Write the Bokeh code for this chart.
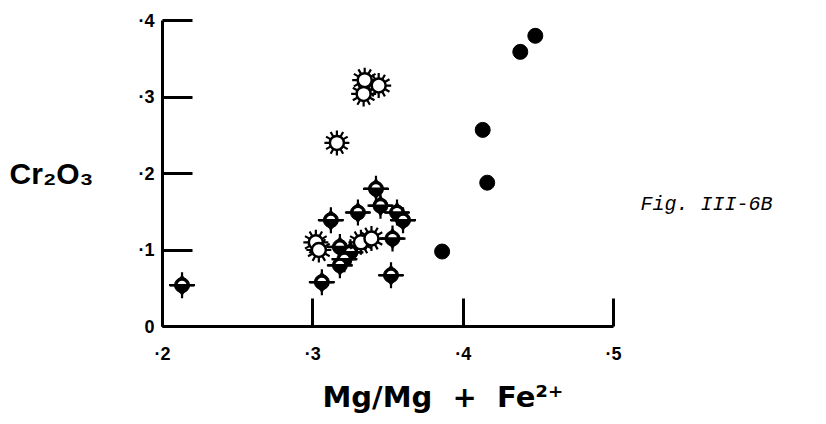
import numpy as np
from bokeh.plotting import figure
from bokeh.models import FixedTicker, Title, Label
from bokeh.embed import file_html
from bokeh.resources import INLINE

# ---- data ----
filled_x = [0.386, 0.413, 0.416, 0.438, 0.448]
filled_y = [0.098, 0.257, 0.188, 0.359, 0.380]

half_x = [0.213, 0.306, 0.312, 0.330, 0.342, 0.345, 0.356, 0.360, 0.353, 0.352,
          0.318, 0.325, 0.321, 0.318]
half_y = [0.054, 0.058, 0.139, 0.149, 0.180, 0.158, 0.149, 0.139, 0.115, 0.067,
          0.104, 0.097, 0.088, 0.080]

sun_x = [0.302, 0.304, 0.332, 0.339, 0.316, 0.3345, 0.3438, 0.3338]
sun_y = [0.110, 0.100, 0.110, 0.115, 0.240, 0.322, 0.315, 0.304]

x_ticks = [0.2, 0.3, 0.4, 0.5]
x_tick_labels = ["·2", "·3", "·4", "·5"]
y_ticks = [0.0, 0.1, 0.2, 0.3, 0.4]
y_tick_labels = ["0", "·1", "·2", "·3", "·4"]

y_title = "Cr₂O₃"
x_title = "Mg/Mg\u00a0\u00a0+\u00a0\u00a0Fe²⁺"
fig_note = "Fig. III-6B"

# ---- layout (px) ----
W = 824
FL, FT = 162, 20                 # frame left / top
AX_W, AX_H = 451, 306            # drawn axis lengths (0.2..0.5, 0..0.4)
px_per_x = AX_W / 0.3
FW = W - FL                      # frame runs to the right edge (room for the note)
x_end = 0.2 + FW / px_per_x

p = figure(frame_width=FW, frame_height=AX_H, x_range=(0.2, x_end), y_range=(0.0, 0.4),
           output_backend="svg", toolbar_location=None,
           min_border_left=FL, min_border_right=0,
           min_border_top=FT, min_border_bottom=98)
p.outline_line_color = None
p.grid.visible = False
p.background_fill_color = "white"
p.border_fill_color = "white"

for ax, ticks, labels, tin, stand, bnds in (
        (p.xaxis[0], x_ticks, x_tick_labels, 28, 17, (0.2, 0.5)),
        (p.yaxis[0], y_ticks, y_tick_labels, 30, 8, (0.0, 0.4))):
    ax.ticker = FixedTicker(ticks=ticks)
    ax.bounds = bnds
    ax.major_label_overrides = {t: l for t, l in zip(ticks, labels)}
    ax.axis_line_width = 3
    ax.axis_line_color = "black"
    ax.major_tick_line_width = 3
    ax.major_tick_line_color = "black"
    ax.major_tick_in = tin
    ax.major_tick_out = 0
    ax.minor_tick_line_color = None
    ax.major_label_text_font = "Liberation Sans"
    ax.major_label_text_font_style = "bold"
    ax.major_label_text_font_size = "18px"
    ax.major_label_text_color = "black"
    ax.major_label_standoff = stand

# y title, horizontal, left of the tick labels
yax = p.yaxis[0]
yax.axis_label = y_title
yax.axis_label_orientation = "horizontal"
yax.axis_label_text_font = "Liberation Sans"
yax.axis_label_text_font_style = "bold"
yax.axis_label_text_font_size = "30px"
yax.axis_label_text_color = "black"
yax.axis_label_standoff = 42

# x title as a title below the axis
p.add_layout(Title(text=x_title, align="left", offset=160, standoff=22,
                   text_font="DejaVu Sans", text_font_style="bold",
                   text_font_size="29px", text_color="black"), "below")

# figure note to the right of the axes
def dx(px):
    return 0.2 + (px - FL) / px_per_x

def dy(py):
    return (FT + AX_H - py) / AX_H * 0.4

p.add_layout(Label(x=dx(640), y=dy(204), text=fig_note, text_font="Liberation Mono",
                   text_font_style="italic", text_font_size="20px", text_color="black",
                   text_baseline="alphabetic", text_align="left"))

# ---- markers ----
# half-filled spiked circles
p.scatter(half_x, half_y, marker="cross", size=26, line_width=2.2, line_color="black")
p.scatter(half_x, half_y, marker="diamond", size=22, fill_color="black", line_color=None)
p.scatter(half_x, half_y, marker="circle", size=15, fill_color="black", line_color="black")
p.wedge(half_x, half_y, radius=4.5, radius_units="screen", start_angle=0, end_angle=np.pi,
        fill_color="white", line_color=None)
p.scatter(half_x, half_y, marker="dash", size=24, line_width=2.5, line_color="black")

# open "sun" symbols
for ang in (0.0, np.pi / 6, np.pi / 3):
    p.scatter(sun_x, sun_y, marker="cross", size=25, angle=ang, line_width=2.2,
              line_color="black")
p.scatter(sun_x, sun_y, marker="circle", size=14, fill_color="white", line_color="black",
          line_width=2.5)

# solid circles
p.scatter(filled_x, filled_y, marker="circle", size=15, fill_color="black", line_color="black")

open("out.html", "w").write(file_html(p, INLINE))
